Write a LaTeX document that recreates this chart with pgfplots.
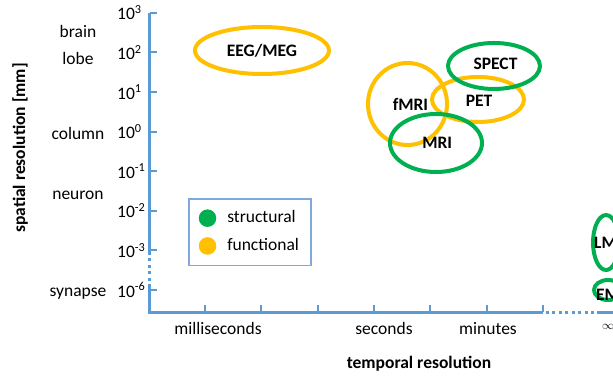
\documentclass[border=0pt]{standalone}
\usepackage{pgfplots}
\pgfplotsset{compat=1.18}
\usepackage{fontspec}
\setmainfont{Carlito}
\definecolor{ellgreen}{HTML}{00B050}
\definecolor{ellgold}{HTML}{FFC000}
\definecolor{axblue}{HTML}{5B9BD5}
\definecolor{legblue}{HTML}{7FA9DC}
\pgfdeclareplotmark{ell}{%
  \pgfpathellipse{\pgfpointorigin}{\pgfpoint{\rx bp}{0pt}}{\pgfpoint{0pt}{\ry bp}}%
  \pgfusepathqstroke}
\begin{document}
\fontsize{17.5bp}{21bp}\selectfont
\begin{tikzpicture}
\begin{axis}[
  x=56.3bp, y=39.6bp,
  xmin=-0.977, xmax=7.2, ymin=-0.556, ymax=7,
  axis lines*=left, axis line style={draw=none},
  clip=false,
  xtick={0,1,2,3,4,5,6}, ytick={0,1,2,3,4,5,6,7},
  xticklabels={},
  yticklabels={10\textsuperscript{-6},10\textsuperscript{-3},10\textsuperscript{-2},10\textsuperscript{-1},10\textsuperscript{0},10\textsuperscript{1},10\textsuperscript{2},10\textsuperscript{3}},
  tick align=inside,
  major tick length=7bp,
  tick style={draw=axblue, line width=2bp},
  yticklabel style={anchor=west, xshift=-33bp, inner sep=0pt},
  legend cell align=left,
  legend style={at={(axis description cs:0.0826,0.381)}, anchor=north west, draw=legblue, line width=1.5bp, fill=white,
    inner xsep=10bp, inner ysep=10bp, row sep=9bp, nodes={inner sep=2bp, text depth=0.15em},
    /tikz/every odd column/.append style={column sep=9bp}},
]
% axis lines
\draw[axblue, line width=3bp] (axis cs:-0.977,7) -- (axis cs:-0.977,0.96);
\draw[axblue, line width=3bp] (axis cs:-0.977,0.076) -- (axis cs:-0.977,-0.556) -- (axis cs:6,-0.556);
\draw[axblue, line width=3bp] (axis cs:6.963,-0.556) -- (axis cs:7.3,-0.556);
\draw[axblue, line width=3bp, dash pattern=on 3bp off 3.5bp] (axis cs:-0.977,0.96) -- (axis cs:-0.977,0.076);
\draw[axblue, line width=3bp, dash pattern=on 3bp off 3.5bp] (axis cs:6.05,-0.556) -- (axis cs:6.963,-0.556);

% functional (yellow)
\addplot[forget plot, only marks, mark=ell,
  visualization depends on={value \thisrow{rx} \as \rx},
  visualization depends on={value \thisrow{ry} \as \ry},
  mark options={draw=ellgold, line width=4bp}] table {
x y rx ry
1.012 6.048 67 23.5
3.597 4.697 39.5 41
4.849 4.811 46 22.5
};
% structural (green)
\addplot[forget plot, only marks, mark=ell,
  visualization depends on={value \thisrow{rx} \as \rx},
  visualization depends on={value \thisrow{ry} \as \ry},
  mark options={draw=ellgreen, line width=4bp}] table {
x y rx ry
5.133 5.657 46 23
4.103 3.712 46 29
7.123 1.199 13 27.5
7.158 0.000 14 10
};
% labels
\addplot[forget plot, only marks, mark=none, nodes near coords, point meta=explicit symbolic,
  every node near coord/.append style={anchor=base, font=\bfseries, text=black, inner sep=0pt}] table[meta=label] {
x y label
1.012 5.909 EEG/MEG
5.160 5.556 SPECT
3.650 4.545 fMRI
4.867 4.646 PET
4.124 3.568 MRI
7.114 1.053 LM
7.158 -0.253 EM
};

\addlegendimage{legend image code/.code={\fill[ellgreen] (0bp,0bp) circle (8bp);}}
\addlegendentry{structural}
\addlegendimage{legend image code/.code={\fill[ellgold] (0bp,0bp) circle (8bp);}}
\addlegendentry{functional}

% category labels
\node[anchor=base] at (axis cs:-2.256,6.381) {brain};
\node[anchor=base] at (axis cs:-2.256,5.699) {lobe};
\node[anchor=base] at (axis cs:-2.256,3.806) {column};
\node[anchor=base] at (axis cs:-2.256,2.290) {neuron};
\node[anchor=base] at (axis cs:-2.256,-0.152) {synapse};

\node[anchor=base] at (axis cs:0.231,-1.136) {milliseconds};
\node[anchor=base] at (axis cs:3.179,-1.111) {seconds};
\node[anchor=base] at (axis cs:5.027,-1.111) {minutes};
\node[anchor=center, font=\fontsize{12bp}{14bp}\selectfont] at (axis cs:7.158,-0.934) {$\infty$};

\node[anchor=base, font=\bfseries] at (axis cs:3.801,-1.970) {temporal resolution};
\node[rotate=90, font=\bfseries] at (axis cs:-3.286,3.586) {spatial resolution [mm]};

\coordinate (TL) at (axis cs:-3.6412,7.3232);
\coordinate (BR) at (axis cs:7.2469,-2.1465);
\end{axis}
\pgfresetboundingbox
\path (TL) rectangle (BR);
\end{tikzpicture}
\end{document}
